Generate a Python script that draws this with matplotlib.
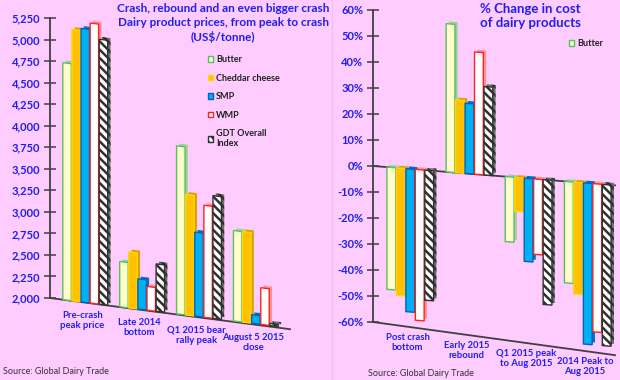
import matplotlib
matplotlib.use("Agg")
import matplotlib.pyplot as plt
import matplotlib.patheffects as pe
from matplotlib.transforms import Affine2D
from matplotlib.patches import Patch
from matplotlib.lines import Line2D
import numpy as np

# ---------------- data ----------------
series = ["Butter", "Cheddar cheese", "SMP", "WMP", "GDT Overall\nIndex"]
price_cats = ["Pre-crash\npeak price", "Late 2014\nbottom", "Q1 2015 bear\nrally peak", "August 5 2015\nclose"]
butter_price = [4750, 2525, 3950, 3050]
cheddar_price = [5150, 2650, 3400, 3050]
smp_price = [5175, 2350, 2975, 2100]
wmp_price = [5250, 2275, 3300, 2425]
gdt_price = [5075, 2550, 3425, 2025]
price_ticks = [2000, 2250, 2500, 2750, 3000, 3250, 3500, 3750, 4000, 4250, 4500, 4750, 5000, 5250]

pct_cats = ["Post crash\nbottom", "Early 2015\nrebound", "Q1 2015 peak\nto Aug 2015", "2014 Peak to\nAug 2015"]
butter_pct = [-47, 57, -25, -39]
cheddar_pct = [-49, 28, -13, -43]
smp_pct = [-55, 27, -32, -62]
wmp_pct = [-58, 47, -29, -57]
gdt_pct = [-50, 34, -48, -62]
pct_ticks = [-60, -50, -40, -30, -20, -10, 0, 10, 20, 30, 40, 50, 60]

# ---------------- style ----------------
BG = "#FFCCFF"
BLUE = "#1E1EF0"
AXC = "#404040"
faces = ["#FFFFCC", "#FFC000", "#00B0F0", "#FFFFFF", "#FFFFFF"]
edges = ["#55C060", "#FFD800", "#0060C0", "#FF2020", "#303030"]
shadows = ["#9FD0A0", "#D9A000", "#0070C0", "#FF9090", "#707070"]
hatches = [None, None, None, None, "\\\\\\\\"]
plt.rcParams["hatch.linewidth"] = 1.8
plt.rcParams["hatch.color"] = "black"
FONT = "Lato"

W, H = 620, 380
fig = plt.figure(figsize=(W / 100, H / 100), dpi=100, facecolor=BG)


def px_axes(l, r, top, bot):
    return fig.add_axes([l / W, 1 - bot / H, (r - l) / W, (bot - top) / H])


def shear(ax, k):
    x0 = ax.bbox.x0
    return ax.transData + Affine2D().translate(-x0, 0).skew(0, -np.arctan(k)).translate(x0, 0)


def draw_panel(ax, data, cats, ylim, ticks, fmt, k_bar, k_floor, floor_vals, xlim, lab_dy):
    ax.set_facecolor("none")
    ax.set_xlim(*xlim)
    ax.set_ylim(*ylim)
    for s in ["top", "right", "bottom"]:
        ax.spines[s].set_visible(False)
    ax.spines["left"].set_color(AXC)
    ax.spines["left"].set_linewidth(1.3)
    ax.set_xticks([])
    ax.set_yticks(ticks)
    ax.set_yticklabels([fmt(t) for t in ticks], color=BLUE, fontsize=8,
                       fontweight="bold", family=FONT)
    ax.tick_params(axis="y", direction="inout", length=8, width=1.1, color=AXC, pad=3)
    tb = shear(ax, k_bar)
    n = len(data)
    bw = 0.16
    x = np.arange(len(cats))
    base = ylim[0] if ylim[0] > 0 else 0
    for i, vals in enumerate(data):
        xs = x + (i - (n - 1) / 2) * bw
        hts = np.array(vals) - base
        bars = ax.bar(xs, hts, bw * 0.93, bottom=base, color=faces[i], edgecolor=edges[i],
                      linewidth=1.0, hatch=hatches[i], transform=tb, clip_on=False, zorder=3)
        for b in bars:
            b.set_path_effects([pe.SimplePatchShadow(offset=(2, 1.6), shadow_rgbFace=shadows[i], alpha=1.0),
                                pe.Normal()])
    # floor lines
    for fv, kf in zip(floor_vals, k_floor):
        tf = shear(ax, kf)
        ax.plot([xlim[0], xlim[1]], [fv, fv], color=AXC, lw=1.3, transform=tf, clip_on=False, zorder=2)
    # category labels along the bottom floor
    tl = shear(ax, k_floor[-1])
    for xi, c in zip(x, cats):
        ax.annotate(c, xy=(xi, ylim[0]), xycoords=tl, xytext=(-2, lab_dy), textcoords="offset points",
                    ha="center", va="top", color=BLUE, fontsize=6.8, fontweight="bold",
                    family=FONT, linespacing=1.15, annotation_clip=False)
    return x


# ---------------- left panel ----------------
axL = px_axes(50, 290, 18, 298)
draw_panel(axL, [butter_price, cheddar_price, smp_price, wmp_price, gdt_price], price_cats,
           (2000, 5250), price_ticks, lambda t: f"{t:,}", 0.125, [0.13], [2000], (-0.62, 3.6), -6)

# ---------------- right panel ----------------
axR = px_axes(373, 615, 10, 322)
draw_panel(axR, [butter_pct, cheddar_pct, smp_pct, wmp_pct, gdt_pct], pct_cats,
           (-60, 60), pct_ticks, lambda t: f"{t}%", 0.08, [0.08, 0.137], [0, -60], (-0.63, 3.46), -4)

# divider
fig.add_artist(Line2D([332 / W, 332 / W], [0, 1], color="#EBC3EB", lw=1.0))

# titles
fig.text(223 / W, 1 - 3 / H, "Crash, rebound and an even bigger crash\nDairy product prices, from peak to crash\n(US$/tonne)",
         ha="center", va="top", color=BLUE, fontsize=8.5, fontweight="bold", family=FONT, linespacing=1.3)
fig.text(530 / W, 1 - 3 / H, "% Change in cost\nof dairy products", ha="center", va="top",
         color=BLUE, fontsize=9.5, fontweight="bold", family=FONT, linespacing=1.2)

# legends
handles = [Patch(facecolor=faces[i], edgecolor=edges[i], hatch=hatches[i], linewidth=1.0) for i in range(5)]
fig.legend(handles, series, loc="upper left", bbox_to_anchor=(200 / W, 1 - 47 / H), frameon=False,
           handlelength=0.55, handleheight=0.55, handletextpad=0.3, labelspacing=1.05,
           prop={"family": FONT, "weight": "bold", "size": 6.5}, labelcolor="#222222")
fig.legend(handles[:1], series[:1], loc="upper left", bbox_to_anchor=(561 / W, 1 - 31 / H), frameon=False,
           handlelength=0.55, handleheight=0.55, handletextpad=0.3,
           prop={"family": FONT, "weight": "bold", "size": 6.5}, labelcolor="#222222")

# sources
fig.text(3 / W, 1 - 372 / H, "Source: Global Dairy Trade", ha="left", va="center", color="#333333",
         fontsize=6.5, family=FONT)
fig.text(368 / W, 1 - 373 / H, "Source: Global Dairy Trade", ha="left", va="center", color="#333333",
         fontsize=6.5, family=FONT)

fig.savefig("out.png", dpi=100, facecolor=BG)
